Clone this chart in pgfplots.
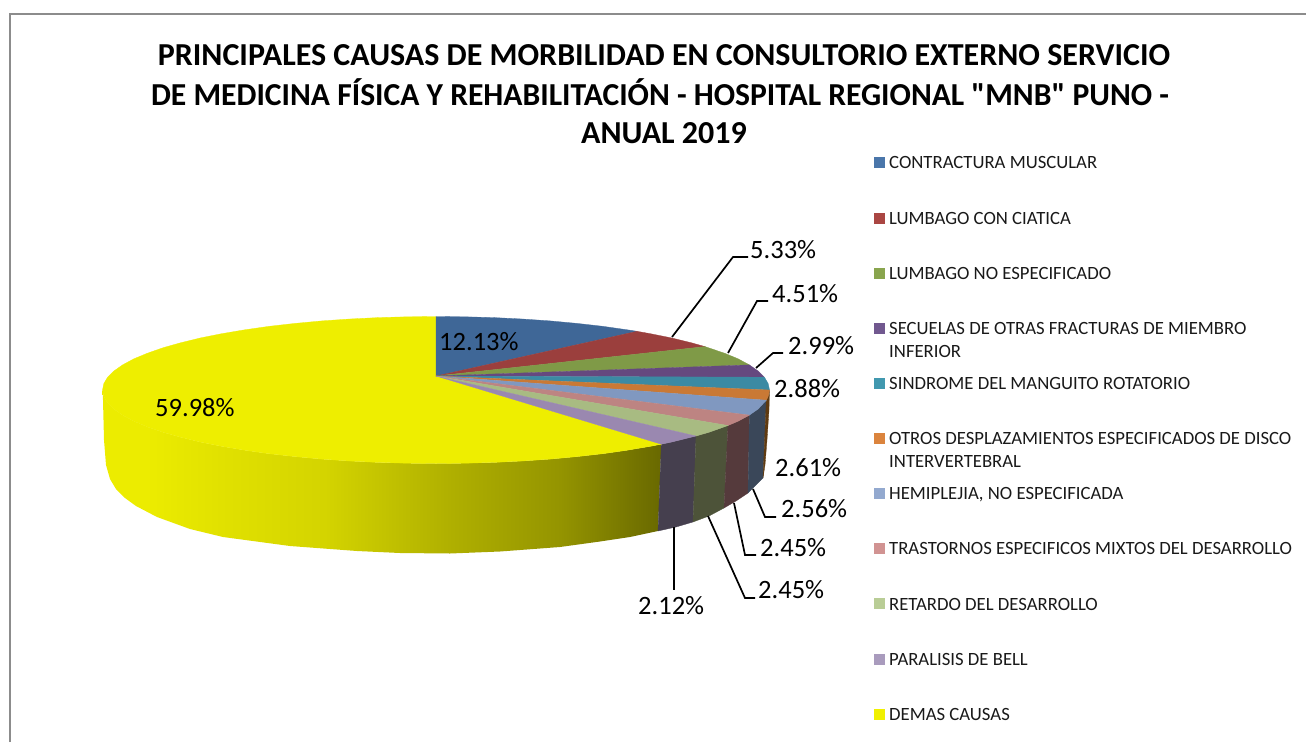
\documentclass[border=0pt]{standalone}
\usepackage{pgfplots}
\pgfplotsset{compat=1.18}
\usepackage{fontspec}
\setmainfont{Carlito}[Ligatures=TeXOff]
\pgfdeclarehorizontalshading{wallshade}{100bp}{
 rgb(0bp)=(0.925,0.925,0);
 rgb(29bp)=(0.925,0.925,0);
 rgb(36bp)=(0.88,0.88,0);
 rgb(45bp)=(0.83,0.83,0);
 rgb(56bp)=(0.69,0.69,0);
 rgb(66bp)=(0.58,0.58,0);
 rgb(75bp)=(0.41,0.41,0);
 rgb(100bp)=(0.41,0.41,0)}
\definecolor{tBlue}{HTML}{3F6797}
\definecolor{tRed}{HTML}{9B3F3D}
\definecolor{tGreen}{HTML}{7F9A47}
\definecolor{tPurple}{HTML}{65497F}
\definecolor{tTeal}{HTML}{3B8AA3}
\definecolor{tOrange}{HTML}{C97935}
\definecolor{tSteel}{HTML}{8098C0}
\definecolor{tRose}{HTML}{BD8482}
\definecolor{tLtGreen}{HTML}{A8BB82}
\definecolor{tLtPurple}{HTML}{9A88B0}
\definecolor{tYellow}{HTML}{EEEE00}
\definecolor{wBrown}{HTML}{5F3A10}
\definecolor{wSteel}{HTML}{3A4759}
\definecolor{wRose}{HTML}{553A3C}
\definecolor{wGreen}{HTML}{4D5339}
\definecolor{wPurple}{HTML}{453F4E}
\definecolor{lBlue}{HTML}{4A76AA}
\definecolor{lRed}{HTML}{AA4643}
\definecolor{lGreen}{HTML}{89A54E}
\definecolor{lPurple}{HTML}{71588F}
\definecolor{lTeal}{HTML}{4198AF}
\definecolor{lOrange}{HTML}{DB843D}
\definecolor{lSteel}{HTML}{93A9CF}
\definecolor{lRose}{HTML}{D19392}
\definecolor{lLtGreen}{HTML}{B9CD96}
\definecolor{lLtPurple}{HTML}{A99BBD}
\definecolor{lYellow}{HTML}{F0F000}
\begin{document}
\begin{tikzpicture}
\path (0,0) rectangle (1306pt,742pt);
\begin{axis}[at={(0,0)},anchor=south west,scale only axis,width=1306pt,height=742pt,
 xmin=0,xmax=1306,ymin=0,ymax=742,y dir=reverse,hide axis,clip=true]
% frame
\addplot[draw=black!45,line width=1.5pt] coordinates {(10,742)(10,14)(1306,14)};
% walls
\addplot[draw=none,shade,shading=wallshade] coordinates {(661.3,444.2)(650.4,446.3)(627.3,450.2)(602.8,453.7)(577,456.6)(550.1,459.1)(522.3,461)(493.9,462.4)(465.1,463.2)(436,463.5)(406.9,463.2)(378.1,462.4)(349.7,461)(321.9,459.1)(295,456.6)(269.2,453.7)(244.7,450.2)(221.6,446.3)(200.2,442)(180.5,437.2)(162.8,432.2)(147.2,426.8)(133.7,421.1)(122.6,415.1)(113.9,409)(107.6,402.8)(103.8,396.4)(102.5,390)(103,400)(104,440)(106,465)(110,479)(116,489)(125,498)(136,506)(157,517)(190,529)(223,537)(290,546)(357,551)(400,553)(450,553.5)(500,551.5)(560,547)(600,541.5)(630,537)(658,531)} -- cycle;
\addplot[fill=wPurple,draw=wPurple,line width=.3pt] coordinates {(661.3,444.2)(671.8,442)(696,436)(693,522)(676,527)(658,531)} -- cycle;
\addplot[fill=wGreen,draw=wGreen,line width=.3pt] coordinates {(696,436)(709.2,432.2)(728,425.5)(724,508)(709,516)(693,522)} -- cycle;
\addplot[fill=wRose,draw=wRose,line width=.3pt] coordinates {(728,425.5)(738.3,421.1)(749.4,415.1)(748,493)(736,501)(724,508)} -- cycle;
\addplot[fill=wSteel,draw=wSteel,line width=.3pt] coordinates {(749.4,415.1)(758.1,409)(766.3,400.2)(763,478)(748,493)} -- cycle;
\addplot[fill=wBrown,draw=wBrown,line width=.3pt] coordinates {(766.3,400.2)(768.2,396.4)(769.5,390)(769,410)(767,440)(765,465)(763,478)} -- cycle;
% top slices
\addplot[fill=tYellow,draw=tYellow,line width=.3pt] coordinates {(436,376)(661.3,444.2)(650.4,446.3)(627.3,450.2)(602.8,453.7)(577,456.6)(550.1,459.1)(522.3,461)(493.9,462.4)(465.1,463.2)(436,463.5)(406.9,463.2)(378.1,462.4)(349.7,461)(321.9,459.1)(295,456.6)(269.2,453.7)(244.7,450.2)(221.6,446.3)(200.2,442)(180.5,437.2)(162.8,432.2)(147.2,426.8)(133.7,421.1)(122.6,415.1)(113.9,409)(107.6,402.8)(103.8,396.4)(102.5,390)(103.8,383.6)(107.6,377.2)(113.9,371)(122.6,364.9)(133.7,358.9)(147.2,353.3)(162.8,347.8)(180.5,342.8)(200.2,338)(221.6,333.7)(244.7,329.8)(269.2,326.3)(295,323.4)(321.9,320.9)(349.7,319)(378.1,317.6)(406.9,316.8)(436,316.5)} -- cycle;
\addplot[fill=tBlue,draw=tBlue,line width=.3pt] coordinates {(436,376)(436,316.5)(465.1,316.8)(493.9,317.6)(522.3,319)(550.1,320.9)(577,323.4)(602.8,326.3)(627.3,329.8)(637,331.3)} -- cycle;
\addplot[fill=tRed,draw=tRed,line width=.3pt] coordinates {(436,376)(637,331.3)(650.4,333.7)(671.8,338)(691.5,342.8)(705,346.6)} -- cycle;
\addplot[fill=tGreen,draw=tGreen,line width=.3pt] coordinates {(436,376)(705,346.6)(724.8,353.3)(738.3,358.9)(749.4,364.9)} -- cycle;
\addplot[fill=tPurple,draw=tPurple,line width=.3pt] coordinates {(436,376)(749.4,364.9)(758.1,371)(764.4,377.2)} -- cycle;
\addplot[fill=tTeal,draw=tTeal,line width=.3pt] coordinates {(436,376)(764.4,377.2)(768.2,383.6)(769.5,390)} -- cycle;
\addplot[fill=tOrange,draw=tOrange,line width=.3pt] coordinates {(436,376)(769.5,390)(768.2,396.4)(766.3,400.2)} -- cycle;
\addplot[fill=tSteel,draw=tSteel,line width=.3pt] coordinates {(436,376)(766.3,400.2)(758.1,409)(749.4,415.1)} -- cycle;
\addplot[fill=tRose,draw=tRose,line width=.3pt] coordinates {(436,376)(749.4,415.1)(738.3,421.1)(728,425.5)} -- cycle;
\addplot[fill=tLtGreen,draw=tLtGreen,line width=.3pt] coordinates {(436,376)(728,425.5)(709.2,432.2)(696,436)} -- cycle;
\addplot[fill=tLtPurple,draw=tLtPurple,line width=.3pt] coordinates {(436,376)(696,436)(671.8,442)(661.3,444.2)} -- cycle;
% leader lines
\addplot[black,line width=1.7pt] coordinates {(672,337)(733,257)(748,257)};
\addplot[black,line width=1.7pt] coordinates {(728,353)(757,301)(768,301)};
\addplot[black,line width=1.7pt] coordinates {(756,368)(773,353)(783,353)};
\addplot[black,line width=1.7pt] coordinates {(753,489)(765,517)(776,517)};
\addplot[black,line width=1.7pt] coordinates {(734,503)(745,555)(756,555)};
\addplot[black,line width=1.7pt] coordinates {(708,516)(745,598)(755,598)};
\addplot[black,line width=1.7pt] coordinates {(674,527)(674,590)};
% legend swatches
\addplot[fill=lBlue,draw=none] coordinates {(874,157)(885,157)(885,168)(874,168)} -- cycle;
\addplot[fill=lRed,draw=none] coordinates {(874,213)(885,213)(885,224)(874,224)} -- cycle;
\addplot[fill=lGreen,draw=none] coordinates {(874,268)(885,268)(885,279)(874,279)} -- cycle;
\addplot[fill=lPurple,draw=none] coordinates {(874,323)(885,323)(885,334)(874,334)} -- cycle;
\addplot[fill=lTeal,draw=none] coordinates {(874,378)(885,378)(885,389)(874,389)} -- cycle;
\addplot[fill=lOrange,draw=none] coordinates {(874,433)(885,433)(885,444)(874,444)} -- cycle;
\addplot[fill=lSteel,draw=none] coordinates {(874,488)(885,488)(885,499)(874,499)} -- cycle;
\addplot[fill=lRose,draw=none] coordinates {(874,543)(885,543)(885,554)(874,554)} -- cycle;
\addplot[fill=lLtGreen,draw=none] coordinates {(874,598)(885,598)(885,609)(874,609)} -- cycle;
\addplot[fill=lLtPurple,draw=none] coordinates {(874,654)(885,654)(885,665)(874,665)} -- cycle;
\addplot[fill=lYellow,draw=none] coordinates {(874,709)(885,709)(885,720)(874,720)} -- cycle;
% title
\tikzset{ttl/.style={font=\fontsize{32}{36}\selectfont\bfseries,inner sep=0pt,anchor=center},
 lab/.style={font=\fontsize{26.5}{30}\selectfont,inner sep=0pt,anchor=west},
 leg/.style={font=\fontsize{18.7}{22}\selectfont,inner sep=0pt,anchor=west,text=black!90}}
\node[ttl] at (axis cs:664,55) {PRINCIPALES CAUSAS DE MORBILIDAD EN CONSULTORIO EXTERNO SERVICIO};
\node[ttl,xscale=0.988] at (axis cs:660,92) {DE MEDICINA FÍSICA Y REHABILITACIÓN - HOSPITAL REGIONAL "MNB" PUNO -};
\node[ttl] at (axis cs:664,133) {ANUAL 2019};
% data labels
\node[lab] at (axis cs:439,342) {12.13\%};
\node[lab] at (axis cs:155,408) {59.98\%};
\node[lab] at (axis cs:750,250) {5.33\%};
\node[lab] at (axis cs:772,294) {4.51\%};
\node[lab] at (axis cs:788,346) {2.99\%};
\node[lab] at (axis cs:774,389) {2.88\%};
\node[lab] at (axis cs:775,468) {2.61\%};
\node[lab] at (axis cs:781,509) {2.56\%};
\node[lab] at (axis cs:760,548) {2.45\%};
\node[lab] at (axis cs:758,590) {2.45\%};
\node[lab] at (axis cs:638,606) {2.12\%};
% legend text
\node[leg] at (axis cs:889,162) {CONTRACTURA MUSCULAR};
\node[leg] at (axis cs:889,218) {LUMBAGO CON CIATICA};
\node[leg] at (axis cs:889,273) {LUMBAGO NO ESPECIFICADO};
\node[leg] at (axis cs:889,328) {SECUELAS DE OTRAS FRACTURAS DE MIEMBRO};
\node[leg] at (axis cs:889,351) {INFERIOR};
\node[leg] at (axis cs:889,383) {SINDROME DEL MANGUITO ROTATORIO};
\node[leg] at (axis cs:889,438) {OTROS DESPLAZAMIENTOS ESPECIFICADOS DE DISCO};
\node[leg] at (axis cs:889,461) {INTERVERTEBRAL};
\node[leg] at (axis cs:889,495) {HEMIPLEJIA, NO ESPECIFICADA};
\node[leg] at (axis cs:889,548) {TRASTORNOS ESPECIFICOS MIXTOS DEL DESARROLLO};
\node[leg] at (axis cs:889,604) {RETARDO DEL DESARROLLO};
\node[leg] at (axis cs:889,659) {PARALISIS DE BELL};
\node[leg] at (axis cs:889,714) {DEMAS CAUSAS};
\end{axis}
\end{tikzpicture}
\end{document}
